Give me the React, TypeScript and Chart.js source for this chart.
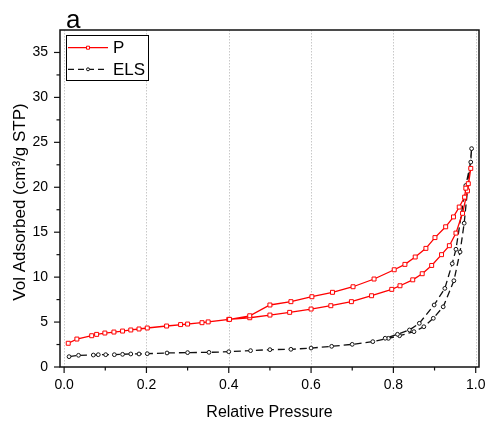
import React, { useEffect, useRef } from "react";
import { Chart, registerables } from "chart.js";

Chart.register(...registerables);

// Tick values
const xTickValues = [0, 0.2, 0.4, 0.6, 0.8, 1.0];
const xMinorTicks = [0.1, 0.3, 0.5, 0.7, 0.9];
const yTickValues = [0, 5, 10, 15, 20, 25, 30, 35];
const yMinorTicks = [2.5, 7.5, 12.5, 17.5, 22.5, 27.5, 32.5];

// Series P (adsorption, ascending)
const pAdsX = [0.01, 0.031, 0.067, 0.079, 0.099, 0.121, 0.142, 0.162, 0.182, 0.202, 0.249, 0.3, 0.35, 0.4, 0.451, 0.5, 0.548, 0.6, 0.648, 0.698, 0.747, 0.796, 0.816, 0.847, 0.87, 0.893, 0.917, 0.936, 0.952, 0.968, 0.98, 0.988];
const pAdsY = [2.64, 3.11, 3.48, 3.63, 3.78, 3.89, 4.0, 4.12, 4.23, 4.34, 4.56, 4.78, 5.02, 5.3, 5.48, 5.78, 6.08, 6.45, 6.82, 7.27, 7.93, 8.64, 9.04, 9.7, 10.38, 11.3, 12.5, 13.5, 14.9, 17.1, 19.6, 22.1];
// Series P (desorption, descending)
const pDesX = [0.982, 0.976, 0.973, 0.96, 0.946, 0.927, 0.901, 0.879, 0.853, 0.828, 0.802, 0.753, 0.702, 0.652, 0.602, 0.551, 0.5, 0.451, 0.402, 0.335, 0.283];
const pDesY = [20.4, 19.9, 18.9, 17.8, 16.7, 15.6, 14.4, 13.2, 12.24, 11.42, 10.82, 9.79, 8.93, 8.31, 7.82, 7.27, 6.9, 5.7, 5.3, 4.93, 4.72];

// Series ELS (adsorption, ascending)
const elsAdsX = [0.012, 0.035, 0.071, 0.083, 0.101, 0.122, 0.142, 0.162, 0.182, 0.202, 0.25, 0.3, 0.352, 0.4, 0.453, 0.5, 0.551, 0.6, 0.65, 0.7, 0.75, 0.788, 0.815, 0.85, 0.874, 0.897, 0.921, 0.947, 0.962, 0.972, 0.99];
const elsAdsY = [1.15, 1.3, 1.33, 1.37, 1.37, 1.37, 1.41, 1.45, 1.45, 1.48, 1.56, 1.6, 1.63, 1.7, 1.82, 1.93, 1.97, 2.11, 2.3, 2.52, 2.82, 3.19, 3.48, 3.93, 4.48, 5.42, 6.7, 9.6, 12.8, 16.0, 24.3];
// Series ELS (desorption, descending)
const elsDesX = [0.988, 0.976, 0.952, 0.943, 0.925, 0.899, 0.863, 0.839, 0.81, 0.78];
const elsDesY = [22.8, 20.2, 13.1, 11.5, 8.75, 6.9, 4.86, 4.12, 3.64, 3.2];

const seriesNames = ["P", "ELS"];
const panelLabel = "a";
const xTitle = "Relative Pressure";
const yTitle = "Vol Adsorbed (cm\u00B3/g STP)";

const FONT = "'Liberation Sans', Arial, sans-serif";
const RED = "#ff0000";
const BLACK = "#111111";

function toPoints(xs: number[], ys: number[]) {
  return xs.map((x, i) => ({ x, y: ys[i] }));
}

const decorPlugin = {
  id: "decor",
  beforeDatasetsDraw(chart: any) {
    const { ctx, chartArea } = chart;
    const xs = chart.scales.x;
    ctx.save();
    ctx.strokeStyle = "#c8c8c8";
    ctx.lineWidth = 1;
    ctx.setLineDash([1.5, 1.5]);
    xTickValues.forEach((v) => {
      const px = Math.round(xs.getPixelForValue(v)) + 0.5;
      ctx.beginPath();
      ctx.moveTo(px, chartArea.top);
      ctx.lineTo(px, chartArea.bottom);
      ctx.stroke();
    });
    ctx.restore();
  },
  afterDraw(chart: any) {
    const { ctx, chartArea } = chart;
    const xs = chart.scales.x;
    const ys = chart.scales.y;
    const { left, right, top, bottom } = chartArea;
    ctx.save();
    // frame
    ctx.strokeStyle = BLACK;
    ctx.lineWidth = 1.5;
    ctx.setLineDash([]);
    ctx.strokeRect(left, top, right - left, bottom - top);
    // ticks
    ctx.lineWidth = 1.2;
    const drawX = (v: number, len: number) => {
      const px = xs.getPixelForValue(v);
      ctx.beginPath();
      ctx.moveTo(px, bottom);
      ctx.lineTo(px, bottom + len);
      ctx.stroke();
    };
    const drawY = (v: number, len: number) => {
      const py = ys.getPixelForValue(v);
      ctx.beginPath();
      ctx.moveTo(left, py);
      ctx.lineTo(left - len, py);
      ctx.stroke();
    };
    xTickValues.forEach((v) => drawX(v, 6));
    xMinorTicks.forEach((v) => drawX(v, 3.5));
    yTickValues.forEach((v) => drawY(v, 6));
    yMinorTicks.forEach((v) => drawY(v, 3.5));

    // panel label
    ctx.fillStyle = "#000";
    ctx.font = `26px ${FONT}`;
    ctx.textAlign = "left";
    ctx.textBaseline = "alphabetic";
    ctx.fillText(panelLabel, 66, 28);

    // axis titles
    ctx.font = `16px ${FONT}`;
    ctx.textAlign = "center";
    ctx.fillText(xTitle, (left + right) / 2, 417);
    ctx.save();
    ctx.translate(25, 202);
    ctx.rotate(-Math.PI / 2);
    ctx.font = `17px ${FONT}`;
    ctx.fillText(yTitle, 0, 0);
    ctx.restore();

    // legend
    const bx = 66.5, by = 35.5, bw = 82, bh = 45;
    ctx.fillStyle = "#fff";
    ctx.fillRect(bx, by, bw, bh);
    ctx.strokeStyle = "#000";
    ctx.lineWidth = 1;
    ctx.strokeRect(bx, by, bw, bh);

    const rows = [
      { y: 47.7, color: RED, dash: [] as number[], marker: "rect" },
      { y: 69.3, color: BLACK, dash: [6, 4], marker: "circle" },
    ];
    rows.forEach((r, i) => {
      ctx.strokeStyle = r.color;
      ctx.lineWidth = 1.3;
      ctx.setLineDash(r.dash);
      ctx.beginPath();
      ctx.moveTo(68, r.y);
      ctx.lineTo(108, r.y);
      ctx.stroke();
      ctx.setLineDash([]);
      ctx.fillStyle = "#fff";
      ctx.lineWidth = 1;
      ctx.beginPath();
      if (r.marker === "rect") {
        ctx.rect(86.5, r.y - 1.5, 3, 3);
      } else {
        ctx.arc(88, r.y, 1.5, 0, Math.PI * 2);
      }
      ctx.fill();
      ctx.stroke();
      ctx.fillStyle = "#000";
      ctx.font = `17px ${FONT}`;
      ctx.textAlign = "left";
      ctx.textBaseline = "middle";
      ctx.fillText(seriesNames[i], 113, r.y + 1);
    });
    ctx.restore();
  },
};

export default function App() {
  const canvasRef = useRef<HTMLCanvasElement | null>(null);

  useEffect(() => {
    const canvas = canvasRef.current;
    if (!canvas) return;
    const chart = new Chart(canvas, {
      type: "scatter",
      data: {
        datasets: [
          {
            label: seriesNames[0],
            data: [...toPoints(pAdsX, pAdsY), ...toPoints(pDesX, pDesY)],
            showLine: true,
            borderColor: RED,
            backgroundColor: "#ffffff",
            borderWidth: 1.3,
            pointStyle: "rect",
            pointRadius: 2.8,
            pointBorderWidth: 1,
            pointBorderColor: RED,
            pointBackgroundColor: "#ffffff",
          },
          {
            label: seriesNames[1],
            data: [...toPoints(elsAdsX, elsAdsY), ...toPoints(elsDesX, elsDesY)],
            showLine: true,
            borderColor: BLACK,
            backgroundColor: "#ffffff",
            borderWidth: 1.3,
            borderDash: [7, 4],
            pointStyle: "circle",
            pointRadius: 1.9,
            pointBorderWidth: 1,
            pointBorderColor: BLACK,
            pointBackgroundColor: "#ffffff",
          },
        ],
      },
      options: {
        animation: false,
        responsive: false,
        maintainAspectRatio: false,
        layout: { padding: { top: 30, right: 10, left: 0, bottom: 0 } },
        plugins: {
          legend: { display: false },
          tooltip: { enabled: false },
        },
        scales: {
          x: {
            type: "linear",
            min: -0.01,
            max: 1.008,
            afterBuildTicks: (scale: any) => {
              scale.ticks = xTickValues.map((v) => ({ value: v }));
            },
            afterFit: (scale: any) => {
              scale.height = 54;
              scale.paddingLeft = 0;
              scale.paddingRight = 0;
            },
            grid: { display: false, drawTicks: false },
            border: { display: false },
            ticks: {
              padding: 10,
              color: "#000",
              maxRotation: 0,
              font: { family: FONT, size: 14 },
              callback: (v: any) => Number(v).toFixed(1),
            },
          },
          y: {
            type: "linear",
            min: 0,
            max: 37.5,
            afterBuildTicks: (scale: any) => {
              scale.ticks = yTickValues.map((v) => ({ value: v }));
            },
            afterFit: (scale: any) => {
              scale.width = 60;
              scale.paddingTop = 0;
              scale.paddingBottom = 0;
            },
            grid: { display: false, drawTicks: false },
            border: { display: false },
            ticks: {
              padding: 12,
              color: "#000",
              font: { family: FONT, size: 14 },
              callback: (v: any) => String(v),
            },
          },
        },
      },
      plugins: [decorPlugin],
    });
    return () => chart.destroy();
  }, []);

  return (
    <div style={{ position: "absolute", left: 0, top: 0, width: 489, height: 421, background: "#fff" }}>
      <canvas ref={canvasRef} width={489} height={421} style={{ display: "block" }} />
    </div>
  );
}
